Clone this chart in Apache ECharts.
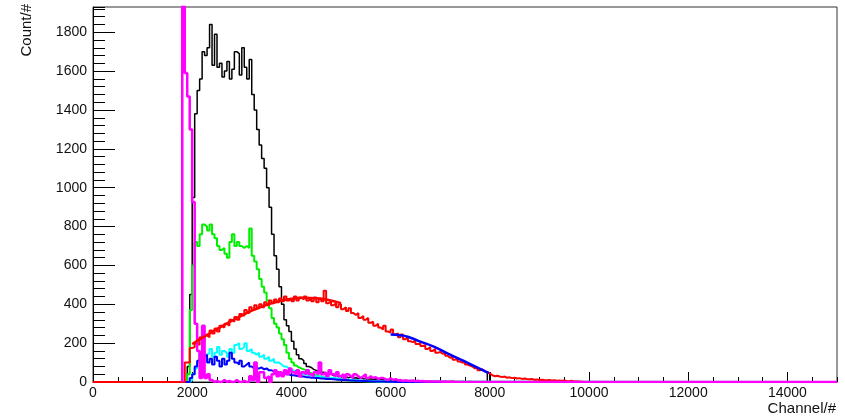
<!DOCTYPE html>
<html>
<head>
<meta charset="utf-8">
<script src="https://cdn.jsdelivr.net/npm/echarts@6/dist/echarts.min.js"></script>
<style>
html,body{margin:0;padding:0;background:#fff;}
#chart{width:845px;height:419px;}
</style>
</head>
<body>
<div id="chart"></div>
<script>
// Histogram bins: first bin low edge and bin width (channels)
const BIN_START = 1800;
const BIN_WIDTH = 50;
const X_MAX = 15000;
const Y_MAX = 1930;

const blackCounts = [
0,0,80,450,950,1380,1500,1560,1700,1680,
1720,1840,1630,1790,1620,1640,1570,1600,1650,1560,
1610,1700,1690,1580,1720,1620,1560,1660,1480,1400,
1300,1220,1150,1100,1000,900,760,650,580,490,
400,320,290,260,210,170,140,120,110,95,
80,75,65,60,55,52,50,45,40,42,
32,36,28,30,25,28,22,25,20,22,
18,20,16,18,15,16,14,15,12,14,
12,10,12,10,9,10,8,9,7,8,
6,8,5,6,5,4,5,4,3,4,
3,3,2,3,2,2,3,2,2,1,
2,1,2,1,1,2,1,1,1,1,
1,1,1,45
];

const greenCounts = [
0,0,40,370,600,720,700,760,810,800,
780,810,760,740,700,680,690,660,640,720,
760,700,720,700,690,700,690,790,650,620,
580,530,490,460,420,380,330,300,280,250,
220,190,150,120,100,85,75,70,65,60,
50,45,40,35,30,28,25,22,20,18,
15,15,12,12,10,10,8,8,6,6,
5,5,4,4,3,3,2,2,1,1
];

const cyanCounts = [
0,0,0,10,40,70,100,130,160,140,
150,170,130,150,180,140,160,150,130,170,
150,190,200,170,180,200,160,170,150,140,
150,130,140,120,130,110,120,100,100,90,
80,80,70,60,60,50,50,45,40,38,
35,35,30,30,28,28,25,25,22,22,
20,20,18,18,15,15,12,12,10,10,
8,8,6,6,5,5,4,4,3,3,
2,2,2,1,1,1
];

const blueCounts = [
0,0,0,20,40,80,110,150,130,140,
100,120,90,130,110,80,120,90,110,150,
120,100,90,110,80,90,100,80,70,85,
70,75,65,70,60,60,55,50,50,45,
45,40,40,35,35,32,30,28,28,25,
25,22,22,20,20,18,18,16,16,15,
14,13,12,11,10,10,9,8,8,7,
6,6,5,5,4,4,3,3,2,2,
2,1,1,1,1,0
];

const redCounts = [
0,100,100,175,180,200,190,230,215,240,
230,265,250,275,260,290,280,300,290,320,
310,335,320,350,340,370,355,385,370,395,
380,400,385,410,395,420,405,425,410,430,
415,440,420,430,415,440,420,435,425,440,
420,430,415,435,410,430,415,470,405,415,
395,405,385,400,375,385,365,380,355,345,
355,330,340,320,330,305,310,290,300,280,
270,290,260,255,270,245,250,230,245,220,
230,210,205,215,195,200,185,190,170,180,
160,170,150,155,145,150,135,125,130,115,
120,105,100,105,90,85,80,70,75,60,
65,55,50,45,35,30,32,28,25,28,
22,24,20,22,18,20,16,18,15,14,
15,12,13,10,12,10,9,10,8,9,
7,8,6,8,5,4,6,3,2,2,
1,0
];

const magentaCounts = [
2500,1590,1470,1300,926,300,160,20,290,20,
40,10,0,5,0,0,10,0,5,0,
0,10,0,0,5,0,0,30,10,100,
0,50,50,20,30,0,40,60,30,50,
30,60,40,70,50,40,60,30,50,40,
60,40,30,50,40,100,40,50,30,60,
40,30,50,30,40,20,40,30,20,40,
30,20,30,40,20,30,20,25,15,20,
20,15,10,20,10,15,8,10,5,8,
6,5,8,4,6,4,5,3,4,3,
2,3,2,2,1,2,1,1,2,1
];

// Fit curves: channel and value
const redFitChannels = [2000,2250,2500,2750,3000,3250,3500,3750,4000,4250,4500,4750,5000];
const redFitValues   = [195,235,272,308,342,372,397,416,428,433,431,422,406];
const blueFitChannels = [6000,6200,6400,6600,6870,7210,7555,7980];
const blueFitValues   = [244,241,228,208,182,139,98,46];

const xTickLabels = ['0','2000','4000','6000','8000','10000','12000','14000'];
const yTickLabels = ['0','200','400','600','800','1000','1200','1400','1600','1800'];

function histPoints(vals, fromZero) {
  const pts = [[fromZero ? 0 : BIN_START, 0]];
  vals.forEach((v, i) => pts.push([BIN_START + i * BIN_WIDTH, v]));
  pts.push([BIN_START + vals.length * BIN_WIDTH, 0]);
  pts.push([X_MAX, 0]);
  return pts;
}
function pairs(xs, ys) { return xs.map((x, i) => [x, ys[i]]); }

const FONT = 'Liberation Sans';
const chart = echarts.init(document.getElementById('chart'), null, {renderer: 'canvas'});

function histSeries(name, vals, color, width, fromZero) {
  return {
    name: name, type: 'line', step: 'end', data: histPoints(vals, fromZero),
    showSymbol: false, symbol: 'none', clip: true, silent: true,
    lineStyle: {color: color, width: width}, itemStyle: {color: color}
  };
}

chart.setOption({
  animation: false,
  backgroundColor: '#ffffff',
  grid: {left: 93, right: 8, top: 7, bottom: 37, show: true, borderColor: '#333', borderWidth: 1, backgroundColor: 'transparent'},
  xAxis: [{
    type: 'value', min: 0, max: X_MAX, interval: 2000, position: 'bottom',
    axisLine: {show: true, onZero: false, lineStyle: {color: '#000', width: 1}},
    axisTick: {show: true, inside: true, length: 10, lineStyle: {color: '#000', width: 1}},
    minorTick: {show: false},
    splitLine: {show: false},
    axisLabel: {show: true, showMaxLabel: false, margin: 4, color: '#111', fontFamily: FONT, fontSize: 14,
      formatter: v => { const i = Math.round(v / 2000); return (v % 2000 === 0 && xTickLabels[i] !== undefined) ? xTickLabels[i] : ''; }}
  }, {
    type: 'value', min: 0, max: X_MAX, interval: 500, position: 'bottom',
    axisLine: {show: false, onZero: false},
    axisTick: {show: true, inside: true, length: 5, lineStyle: {color: '#000', width: 1}},
    splitLine: {show: false},
    axisLabel: {show: false}
  }],
  yAxis: [{
    type: 'value', min: 0, max: Y_MAX, interval: 200, position: 'left',
    axisLine: {show: true, onZero: false, lineStyle: {color: '#000', width: 1}},
    axisTick: {show: true, inside: true, length: 22, lineStyle: {color: '#000', width: 1}},
    splitLine: {show: false},
    axisLabel: {show: true, showMaxLabel: false, margin: 6, color: '#111', fontFamily: FONT, fontSize: 14,
      formatter: v => { const i = Math.round(v / 200); return (v % 200 === 0 && yTickLabels[i] !== undefined) ? yTickLabels[i] : ''; }}
  }, {
    type: 'value', min: 0, max: Y_MAX, interval: 40, position: 'left',
    axisLine: {show: false, onZero: false},
    axisTick: {show: true, inside: true, length: 12, lineStyle: {color: '#000', width: 1}},
    splitLine: {show: false},
    axisLabel: {show: false}
  }],
  graphic: [
    {type: 'text', x: 27, y: 4, rotation: Math.PI / 2, silent: true,
     style: {text: 'Count/#', align: 'right', verticalAlign: 'middle', fill: '#111', font: '15px "Liberation Sans"'}},
    {type: 'text', x: 836, y: 409, silent: true,
     style: {text: 'Channel/#', align: 'right', verticalAlign: 'middle', fill: '#111', font: '15px "Liberation Sans"'}}
  ],
  series: [
    histSeries('black', blackCounts, '#000000', 1.5, true),
    histSeries('green', greenCounts, '#00ee00', 2, true),
    histSeries('cyan', cyanCounts, '#00ffff', 2, true),
    histSeries('blue', blueCounts, '#0000ff', 2, true),
    histSeries('red', redCounts, '#ff0000', 2, true),
    histSeries('magenta', magentaCounts, '#ff00ff', 2.5, false),
    {name: 'red fit', type: 'line', data: pairs(redFitChannels, redFitValues), smooth: true,
     showSymbol: false, symbol: 'none', silent: true, lineStyle: {color: '#ff0000', width: 2.5}},
    {name: 'blue fit', type: 'line', data: pairs(blueFitChannels, blueFitValues), smooth: true,
     showSymbol: false, symbol: 'none', silent: true, lineStyle: {color: '#0000ff', width: 2.5}}
  ]
});
</script>
</body>
</html>
